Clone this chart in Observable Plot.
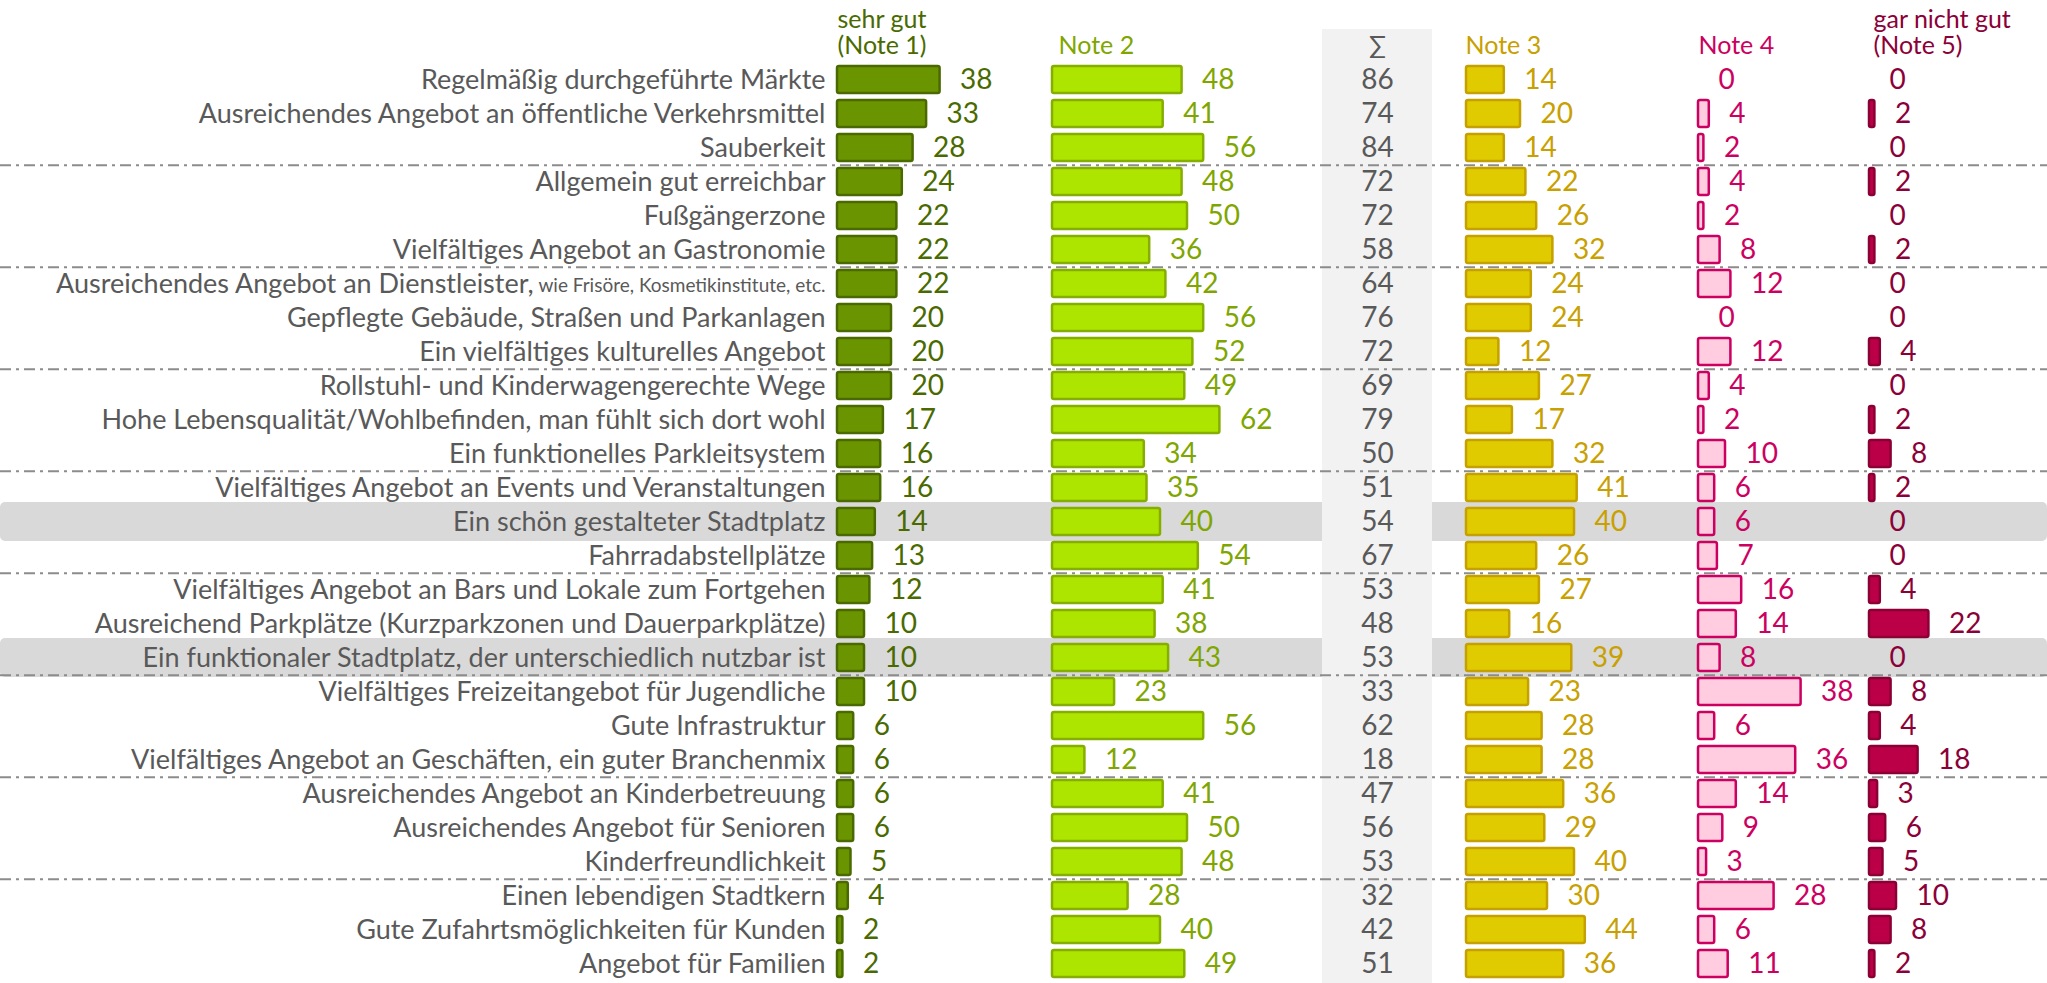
<!DOCTYPE html>
<html><head><meta charset="utf-8">
<script src="https://cdn.jsdelivr.net/npm/d3@7"></script>
<script src="https://cdn.jsdelivr.net/npm/@observablehq/plot@0.6"></script>
<style>body{margin:0;background:#fff}svg{display:block}</style>
</head><body><div id="chart"></div>
<script>
const categories = [
  "Regelmäßig durchgeführte Märkte",
  "Ausreichendes Angebot an öffentliche Verkehrsmittel",
  "Sauberkeit",
  "Allgemein gut erreichbar",
  "Fußgängerzone",
  "Vielfältiges Angebot an Gastronomie",
  "Ausreichendes Angebot an Dienstleister, wie Frisöre, Kosmetikinstitute, etc.",
  "Gepflegte Gebäude, Straßen und Parkanlagen",
  "Ein vielfältiges kulturelles Angebot",
  "Rollstuhl- und Kinderwagengerechte Wege",
  "Hohe Lebensqualität/Wohlbefinden, man fühlt sich dort wohl",
  "Ein funktionelles Parkleitsystem",
  "Vielfältiges Angebot an Events und Veranstaltungen",
  "Ein schön gestalteter Stadtplatz",
  "Fahrradabstellplätze",
  "Vielfältiges Angebot an Bars und Lokale zum Fortgehen",
  "Ausreichend Parkplätze (Kurzparkzonen und Dauerparkplätze)",
  "Ein funktionaler Stadtplatz, der unterschiedlich nutzbar ist",
  "Vielfältiges Freizeitangebot für Jugendliche",
  "Gute Infrastruktur",
  "Vielfältiges Angebot an Geschäften, ein guter Branchenmix",
  "Ausreichendes Angebot an Kinderbetreuung",
  "Ausreichendes Angebot für Senioren",
  "Kinderfreundlichkeit",
  "Einen lebendigen Stadtkern",
  "Gute Zufahrtsmöglichkeiten für Kunden",
  "Angebot für Familien"
];
const note1 = [38,33,28,24,22,22,22,20,20,20,17,16,16,14,13,12,10,10,10,6,6,6,6,5,4,2,2];
const note2 = [48,41,56,48,50,36,42,56,52,49,62,34,35,40,54,41,38,43,23,56,12,41,50,48,28,40,49];
const totals = [86,74,84,72,72,58,64,76,72,69,79,50,51,54,67,53,48,53,33,62,18,47,56,53,32,42,51];
const note3 = [14,20,14,22,26,32,24,24,12,27,17,32,41,40,26,27,16,39,23,28,28,36,29,40,30,44,36];
const note4 = [0,4,2,4,2,8,12,0,12,4,2,10,6,6,7,16,14,8,38,6,36,14,9,3,28,6,11];
const note5 = [0,2,0,2,0,2,0,0,4,0,2,8,2,0,0,4,22,0,8,4,18,3,6,5,10,8,2];
const highlighted = ["Ein schön gestalteter Stadtplatz", "Ein funktionaler Stadtplatz, der unterschiedlich nutzbar ist"];
const smallSuffix = {"Ausreichendes Angebot an Dienstleister, wie Frisöre, Kosmetikinstitute, etc.": " wie Frisöre, Kosmetikinstitute, etc."};
const headerTop = ["sehr gut", "", "", "", "", "gar nicht gut"];
const headerBottom = ["(Note 1)", "Note 2", "∑", "Note 3", "Note 4", "(Note 5)"];

// ---- layout & style ----
const W = 2047, H = 983, K = 2.7;          // pixels per percentage point
const FONT = "Lato, 'Open Sans', sans-serif";
const colPx = [837, 1052, null, 1466, 1698, 1869];
const sigmaPx = [1322, 1432];
const labelRightPx = 825;
const rowTop = 59.2, step = 34.28;
const fills   = ["#6b9500", "#ade500", null, "#e0cb00", "#ffcce0", "#bb0048"];
const strokes = ["#4a6a00", "#85ae00", null, "#c4a000", "#cc0060", "#8a0035"];
const texts   = ["#4a6a00", "#7fa600", "#595959", "#c8a000", "#cc0060", "#8c0038"];
const headX   = [837, 1058, 1377, 1465, 1698, 1873];

const series = [note1, note2, null, note3, note4, note5];
const u = px => px / K;

const rows = [];
series.forEach((s, j) => { if (s) s.forEach((v, i) => rows.push({cat: categories[i], col: j, value: v})); });

const groupEnds = categories.filter((c, i) => i % 3 === 2 && i < categories.length - 1);

// measure suffix width
const ctx = document.createElement("canvas").getContext("2d");
ctx.font = "19px Lato";
const labelMain = c => smallSuffix[c] ? c.slice(0, c.length - smallSuffix[c].length + 1).replace(/ $/, "") : c;

const marks = [];
marks.push(Plot.barX(highlighted, {y: d => d, x1: 0, x2: u(W), fill: "#d9d9d9", insetTop: -6, insetBottom: -6, rx: 5}));
marks.push(Plot.barX([0], {x1: u(sigmaPx[0]), x2: u(sigmaPx[1]), fill: "#f2f2f2", insetTop: 29}));
marks.push(Plot.ruleY(groupEnds, {y: d => d, dy: step / 2, stroke: "#8c8c8c", strokeWidth: 2, strokeDasharray: "11,5,3,5"}));

[0, 1, 3, 4, 5].forEach(j => {
  const data = rows.filter(r => r.col === j);
  marks.push(Plot.barX(data.filter(r => r.value > 0), {
    y: "cat", x1: () => u(colPx[j]), x2: r => u(colPx[j]) + r.value,
    fill: fills[j], stroke: strokes[j], strokeWidth: 2.5, rx: 2
  }));
  marks.push(Plot.text(data, {
    y: "cat", x: r => u(colPx[j]) + r.value, text: r => String(r.value),
    dx: 20, textAnchor: "start", fill: texts[j], fontSize: 28, fontFamily: FONT
  }));
});

marks.push(Plot.text(categories, {y: d => d, x: () => u((sigmaPx[0] + sigmaPx[1]) / 2), text: (d, i) => String(totals[i]),
  textAnchor: "middle", fill: "#595959", fontSize: 28, fontFamily: FONT}));

// category labels
const mainLabels = categories.map(c => smallSuffix[c] ? c.slice(0, c.length - smallSuffix[c].length) : c);
marks.push(Plot.text(categories, {y: d => d,
  x: d => u(labelRightPx - (smallSuffix[d] ? ctx.measureText(smallSuffix[d]).width : 0)),
  text: (d, i) => mainLabels[i], textAnchor: "end", fill: "#595959", fontSize: 27, fontFamily: FONT}));
marks.push(Plot.text(Object.keys(smallSuffix), {y: d => d, x: () => u(labelRightPx), text: d => smallSuffix[d],
  textAnchor: "end", fill: "#595959", fontSize: 19, fontFamily: FONT, dy: 2}));

// headers
headerBottom.forEach((h, j) => {
  const anchor = j === 2 ? "middle" : "start";
  marks.push(Plot.text([h], {x: () => u(headX[j]), frameAnchor: "top", dy: 45, lineAnchor: "middle",
    text: d => d, textAnchor: anchor, fill: texts[j], fontSize: 25, fontFamily: FONT}));
  if (headerTop[j]) marks.push(Plot.text([headerTop[j]], {x: () => u(headX[j]), frameAnchor: "top", dy: 19, lineAnchor: "middle",
    text: d => d, textAnchor: anchor, fill: texts[j], fontSize: 25, fontFamily: FONT}));
});

const chart = Plot.plot({
  width: W, height: H, margin: 0,
  style: {fontFamily: FONT, background: "#fff", overflow: "visible"},
  x: {domain: [0, u(W)], range: [0, W], axis: null},
  y: {type: "band", domain: categories, range: [rowTop, rowTop + categories.length * step], paddingInner: 0.2, paddingOuter: 0.1, axis: null},
  marks
});
document.getElementById("chart").appendChild(chart);
</script>
</body></html>
